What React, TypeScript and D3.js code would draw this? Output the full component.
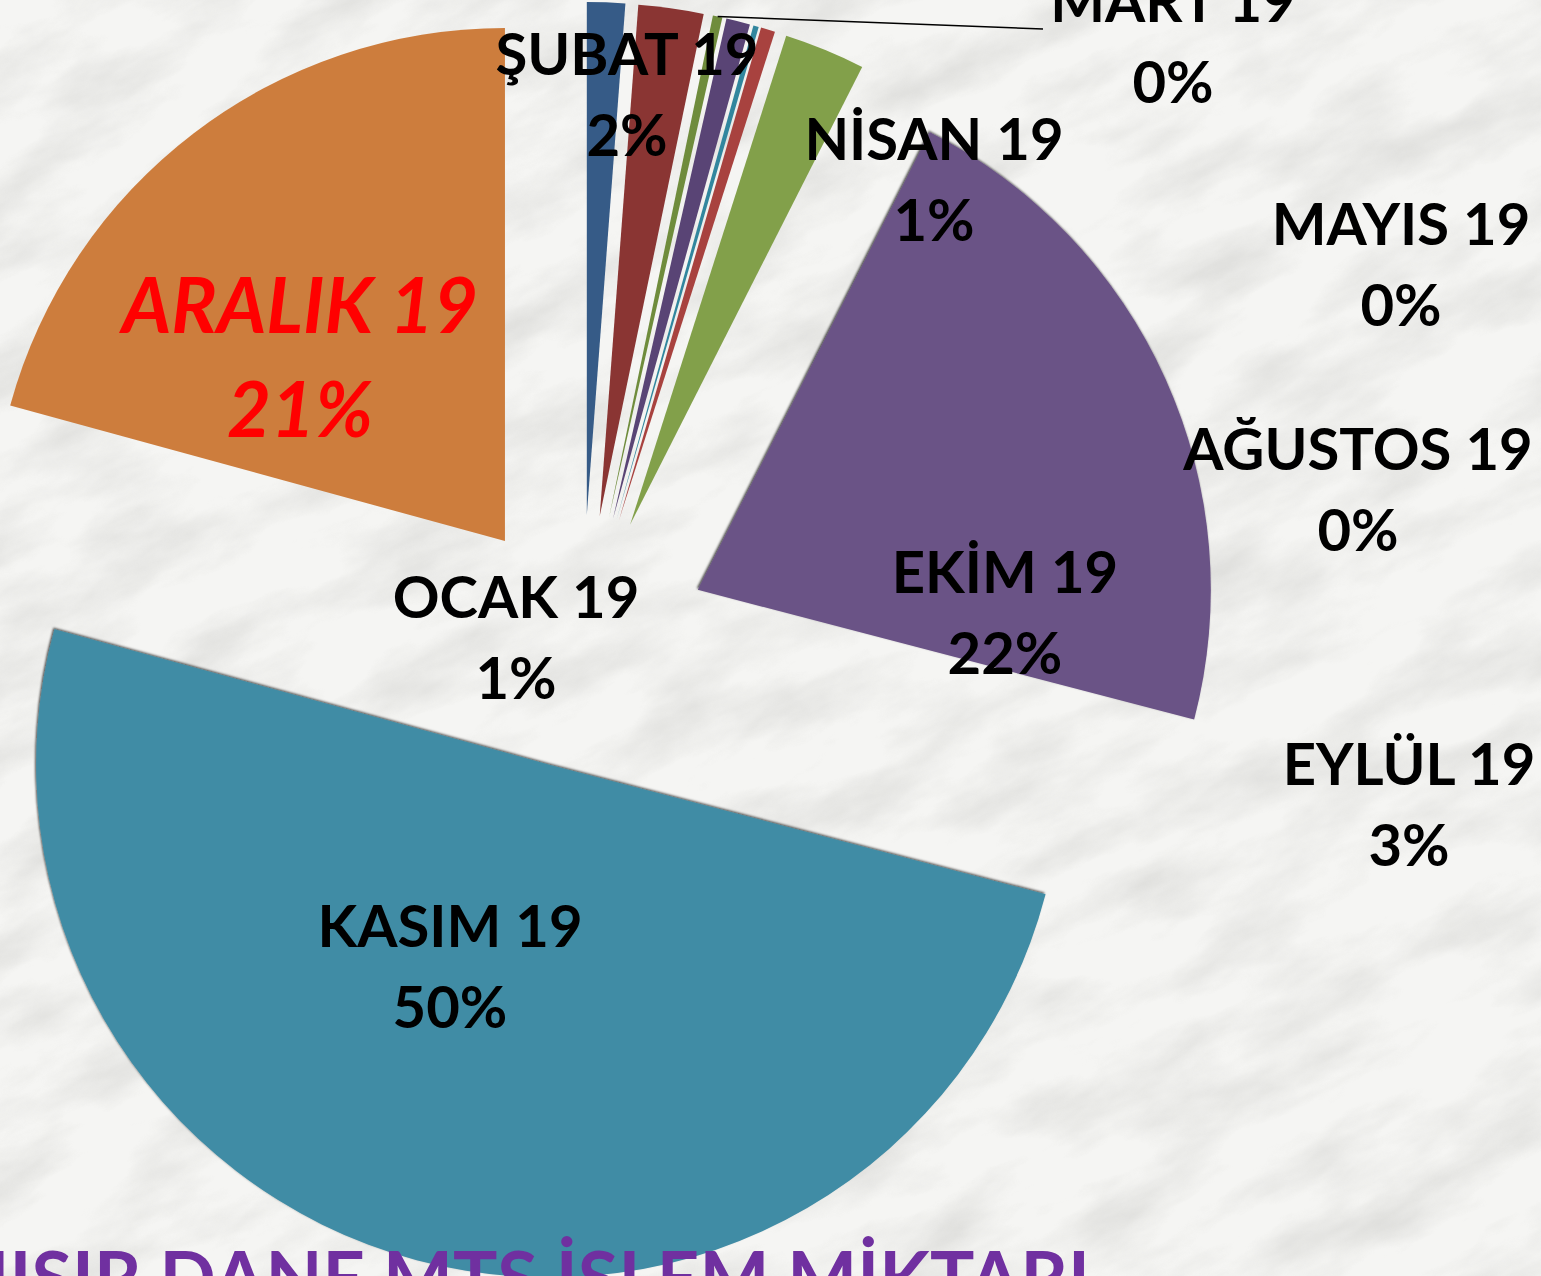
import React from "react";
import * as d3 from "d3";

const W = 1541;
const H = 1276;

// ---- data ----
const months = [
  "OCAK 19", "ŞUBAT 19", "MART 19", "NİSAN 19", "MAYIS 19", "HAZİRAN 19",
  "TEMMUZ 19", "AĞUSTOS 19", "EYLÜL 19", "EKİM 19", "KASIM 19", "ARALIK 19",
];
const values = [1.2, 2.05, 0.3, 0.75, 0.17, 0, 0, 0.45, 2.55, 21.6, 50.2, 20.75];
const sliceColors = [
  "#365B87", "#8A3533", "#6F8C3C", "#594475", "#31869E", "#D9823F",
  "#3D6A9C", "#A8423F", "#82A04A", "#6A5286", "#418CA5", "#CD7D3D",
];
const titleText = "MISIR DANE MTS İŞLEM MİKTARI";

// ---- layout (label placement: center x, baseline of first line) ----
const labelPlacement: ({ x: number; y: number } | null)[] = [
  { x: 516, y: 618 },
  { x: 627, y: 75 },
  { x: 1173, y: 22 },
  { x: 934, y: 160 },
  { x: 1401, y: 245 },
  null,
  null,
  { x: 1358, y: 470 },
  { x: 1409, y: 785 },
  { x: 1005, y: 593 },
  { x: 450, y: 947 },
  { x: 300, y: 333 },
];
const highlightIndex = 11;
const leaderIndex = 2;
const leaderEnd = { x: 1043, y: 29 };
const edgeShadowIndices = [9, 10];

const CX = 582;
const CY = 642;
const R = 513;
const EXPLODE = 127;

export default function App() {
  const total = d3.sum(values);
  const pie = d3.pie<number>().sort(null).value((d) => d)(values);
  const arc = d3.arc<d3.PieArcDatum<number>>().innerRadius(0).outerRadius(R);
  const pct = d3.format(".0%");
  const font = "Lato, 'Open Sans', sans-serif";

  const offset = (a: d3.PieArcDatum<number>, dist: number) => {
    const m = (a.startAngle + a.endAngle) / 2;
    return [Math.sin(m) * dist, -Math.cos(m) * dist];
  };

  const leader = pie[leaderIndex];
  const [lx, ly] = offset(leader, EXPLODE + R);

  return (
    <svg
      width={W}
      height={H}
      style={{ position: "fixed", left: 0, top: 0, display: "block" }}
      xmlns="http://www.w3.org/2000/svg"
    >
      <defs>
        <filter id="marble" x="0" y="0" width="100%" height="100%">
          <feTurbulence type="fractalNoise" baseFrequency="0.007 0.018" numOctaves="5" seed="11" result="t" />
          <feColorMatrix
            in="t"
            type="matrix"
            values="0 0 0 0 0.6  0 0 0 0 0.6  0 0 0 0 0.58  1.5 0 0 0 -0.6"
          />
        </filter>
        <filter id="edge" x="-5%" y="-5%" width="110%" height="110%">
          <feDropShadow dx={-1} dy={-1.5} stdDeviation={0.8} floodColor="#000" floodOpacity={0.7} />
        </filter>
      </defs>
      <rect x={0} y={0} width={W} height={H} fill="#F5F5F3" />
      <g transform={`rotate(-25 ${W / 2} ${H / 2})`}>
        <rect x={-600} y={-600} width={W + 1200} height={H + 1200} filter="url(#marble)" opacity={0.7} />
      </g>

      <g transform={`translate(${CX},${CY})`}>
        {pie.map((p, i) => {
          const [ox, oy] = offset(p, EXPLODE);
          return (
            <path
              key={months[i]}
              d={arc(p) || ""}
              transform={`translate(${ox},${oy})`}
              fill={sliceColors[i]}
              filter={edgeShadowIndices.includes(i) ? "url(#edge)" : undefined}
            />
          );
        })}
        <line
          x1={lx}
          y1={ly}
          x2={leaderEnd.x - CX}
          y2={leaderEnd.y - CY}
          stroke="#000"
          strokeWidth={1.5}
        />
      </g>

      {months.map((m, i) => {
        const pl = labelPlacement[i];
        if (!pl) return null;
        const hl = i === highlightIndex;
        const size = hl ? 76 : 58;
        const gap = hl ? 104 : 81;
        return (
          <text
            key={m}
            x={pl.x}
            y={pl.y}
            textAnchor="middle"
            fontFamily={font}
            fontWeight="bold"
            fontStyle={hl ? "italic" : "normal"}
            fontSize={size}
            fill={hl ? "#FF0000" : "#000"}
          >
            <tspan x={pl.x} y={pl.y}>{m}</tspan>
            <tspan x={pl.x} y={pl.y + gap}>{pct(values[i] / total)}</tspan>
          </text>
        );
      })}

      <text
        x={1090}
        y={1305}
        textAnchor="end"
        fontFamily={font}
        fontWeight="bold"
        fontSize={74}
        fill="#7030A0"
      >
        {titleText}
      </text>
    </svg>
  );
}
